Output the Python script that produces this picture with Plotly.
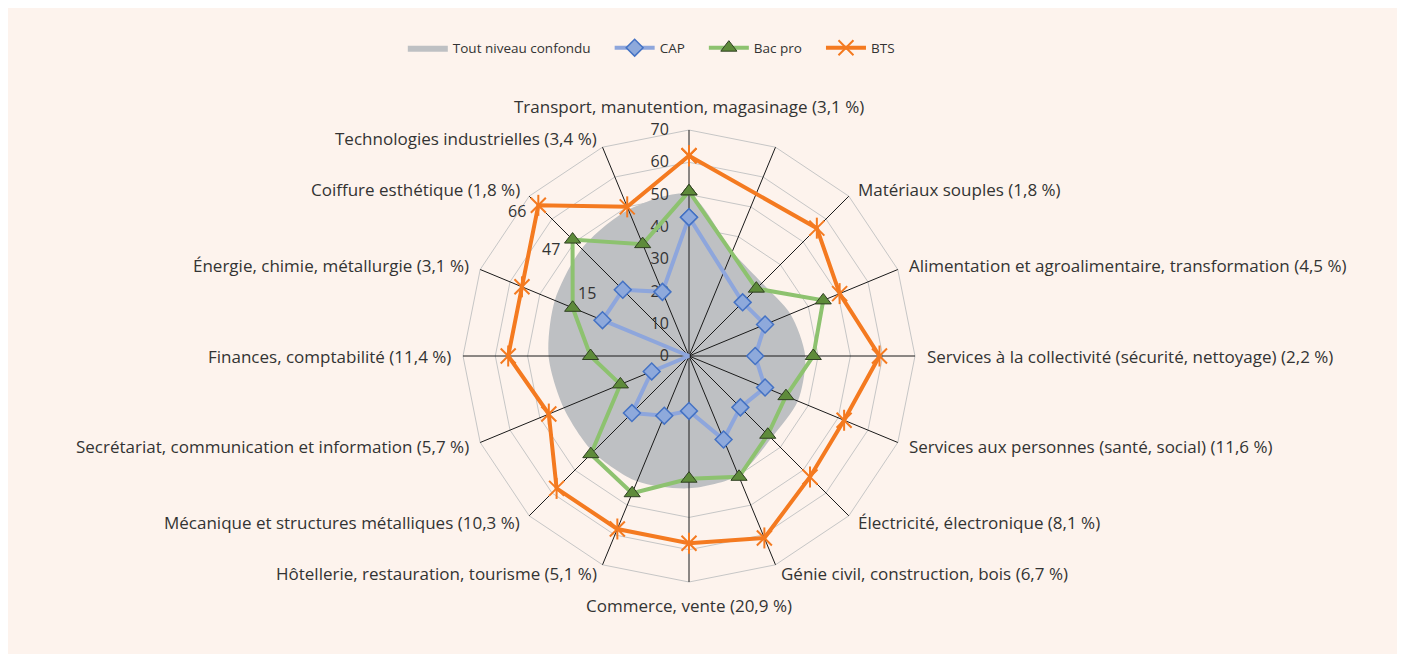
import math
import plotly.graph_objects as go

categories = [
    "Transport, manutention, magasinage (3,1 %)",
    " ",
    "Matériaux souples (1,8 %)",
    "Alimentation et agroalimentaire, transformation (4,5 %)",
    "Services à la collectivité (sécurité, nettoyage) (2,2 %)",
    "Services aux personnes (santé, social) (11,6 %)",
    "Électricité, électronique (8,1 %)",
    "Génie civil, construction, bois (6,7 %)",
    "Commerce, vente (20,9 %)",
    "Hôtellerie, restauration, tourisme (5,1 %)",
    "Mécanique et structures métalliques (10,3 %)",
    "Secrétariat, communication et information (5,7 %)",
    "Finances, comptabilité (11,4 %)",
    "Énergie, chimie, métallurgie (3,1 %)",
    "Coiffure esthétique (1,8 %)",
    "Technologies industrielles (3,4 %)",
]

tout_niveau = [50, 35, 32, 34, 36, 36.5, 36, 40, 41, 42, 42, 42, 43.5, 45, 47, 49]
cap = [43, None, 23.5, 25.5, 20.5, 25.5, 22.5, 28, 17, 20, 25, 12.5, 0, 29, 29, 21.5]
bac_pro = [51, None, 29.5, 45, 38.5, 32.5, 34.5, 40.5, 38, 46, 43, 23, 30.5, 39, 51, 37.5]
bts = [62, None, 56, 50.5, 59, 52, 53, 61, 58, 58, 58, 47, 56, 56, 66, 50]

radial_ticks = [0, 10, 20, 30, 40, 50, 60, 70]
extra_labels = ["66", "47", "15"]

FONT = "Open Sans"
TXT = "#333333"
BG = "#FDF3ED"
NB = "\u00a0"


def closed(values):
    return list(values) + [values[0]]


theta = closed(categories)

fig = go.Figure()

fig.add_trace(go.Scatterpolar(
    r=closed(tout_niveau), theta=theta, name="Tout niveau confondu" + NB * 4,
    subplot="polar", mode="lines", fill="toself", connectgaps=True,
    fillcolor="#BEC0C3", line=dict(color="#BEC0C3", width=0, shape="spline", smoothing=0.8),
    hoverinfo="skip",
))
fig.add_trace(go.Scatterpolar(
    r=closed(cap), theta=theta, name="CAP" + NB * 4, subplot="polar2",
    mode="lines+markers", connectgaps=True,
    line=dict(color="#8EA6DC", width=4),
    marker=dict(symbol="diamond", size=13, color="#8EA9DB",
                line=dict(color="#4472C4", width=1.5)),
))
fig.add_trace(go.Scatterpolar(
    r=closed(bac_pro), theta=theta, name="Bac pro" + NB * 4, subplot="polar2",
    mode="lines+markers", connectgaps=True,
    line=dict(color="#8DC26F", width=4),
    marker=dict(symbol="triangle-up", size=14, color="#5E8B3A",
                line=dict(color="#2F3F22", width=1)),
))
fig.add_trace(go.Scatterpolar(
    r=closed(bts), theta=theta, name="BTS", subplot="polar2",
    mode="lines+markers", connectgaps=True,
    line=dict(color="#F47A20", width=4),
    marker=dict(symbol="x-thin-open", size=15, color="#F47A20",
                line=dict(color="#F47A20", width=2)),
))
fig.add_trace(go.Scatterpolar(
    r=closed(bts), theta=theta, name="BTS", subplot="polar2",
    mode="markers", showlegend=False,
    marker=dict(symbol="line-ns-open", size=15, color="#F47A20",
                line=dict(color="#F47A20", width=2)),
))

cx, cy, R = 681, 348, 226
W, H = 1405, 654
dom_x = [(cx - R) / W, (cx + R) / W]
dom_y = [(H - cy - R) / H, (H - cy + R) / H]

common_ang = dict(type="category", categoryorder="array", categoryarray=categories,
                  rotation=90, direction="clockwise")

fig.update_layout(
    width=W, height=H,
    margin=dict(l=0, r=0, t=0, b=0),
    paper_bgcolor=BG,
    font=dict(family=FONT, size=16, color=TXT),
    polar=dict(
        domain=dict(x=dom_x, y=dom_y),
        bgcolor="rgba(0,0,0,0)",
        gridshape="linear",
        radialaxis=dict(range=[0, 70], tickvals=radial_ticks, showticklabels=False,
                        showgrid=True, gridcolor="#C6C6C6", gridwidth=1,
                        showline=False, ticks="", layer="below traces"),
        angularaxis=dict(**common_ang, showticklabels=False, showgrid=False,
                         showline=True, linecolor="#C6C6C6", linewidth=1, ticks="",
                         layer="below traces"),
    ),
    polar2=dict(
        domain=dict(x=dom_x, y=dom_y),
        bgcolor="rgba(0,0,0,0)",
        gridshape="linear",
        radialaxis=dict(range=[0, 70], tickvals=radial_ticks, angle=90, tickangle=90,
                        showgrid=False, showline=False, ticks="outside", ticklen=14,
                        tickcolor="rgba(0,0,0,0)",
                        tickfont=dict(family=FONT, size=16, color=TXT),
                        side="counterclockwise", layer="below traces"),
        angularaxis=dict(**common_ang, showgrid=True, gridcolor="#1A1A1A", gridwidth=1,
                         showline=False, ticks="", showticklabels=False,
                         layer="below traces"),
    ),
    legend=dict(orientation="h", x=0.281, xanchor="left", y=0.939, yanchor="middle",
                font=dict(family=FONT, size=13.5, color=TXT), bgcolor="rgba(0,0,0,0)",
                itemwidth=40),
)

# category labels around the radar, Excel-like placement
n = len(categories)
for i, lab in enumerate(categories):
    if not lab.strip():
        continue
    a = math.radians(i * 360 / n)
    s, c = math.sin(a), math.cos(a)
    ex, ey = cx + R * s, cy - R * c
    if abs(s) < 1e-6:
        px, py, xa = ex, ey - 23 * c, "center"
    else:
        px, py = ex + 10 * s, ey - 9.5 * c
        xa = "left" if s > 0 else "right"
    fig.add_annotation(text=lab, x=px / W, y=1 - py / H, xref="paper", yref="paper",
                       showarrow=False, xanchor=xa, yanchor="middle",
                       font=dict(family=FONT, size=17, color=TXT))

ann_pos = [(509, 203), (543, 241), (579, 285)]
for txt, (px, py) in zip(extra_labels, ann_pos):
    fig.add_annotation(text=txt, x=px / W, y=1 - py / H, xref="paper", yref="paper",
                       showarrow=False, xanchor="center", yanchor="middle",
                       font=dict(family=FONT, size=16, color=TXT))

fig.write_html("out.html")
